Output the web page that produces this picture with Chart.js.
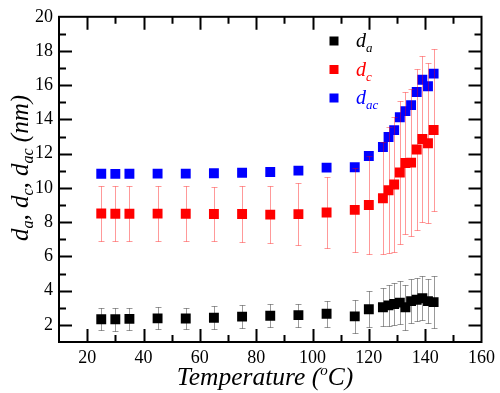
<!DOCTYPE html>
<html>
<head>
<meta charset="utf-8">
<script src="https://cdn.jsdelivr.net/npm/chart.js@4.4.0/dist/chart.umd.min.js"></script>
<style>
  html, body { margin: 0; padding: 0; background: #fff; }
  #wrap { width: 500px; height: 393px; }
</style>
</head>
<body>
<div id="wrap"><canvas id="chart"></canvas></div>
<script>
// --- DATA ---
const temps = [25, 30, 35, 45, 55, 65, 75, 85, 95, 105, 115, 120, 125, 127, 129, 131, 133, 135, 137, 139, 141, 143];
const dA    = [2.33, 2.33, 2.35, 2.38, 2.37, 2.42, 2.48, 2.53, 2.57, 2.65, 2.50, 2.91, 3.03, 3.14, 3.22, 3.30, 3.03, 3.39, 3.47, 3.56, 3.39, 3.33];
const dAErr = [0.64, 0.67, 0.64, 0.64, 0.62, 0.66, 0.66, 0.67, 0.67, 0.75, 0.95, 1.05, 1.10, 1.20, 1.22, 1.25, 1.30, 1.28, 1.25, 1.28, 1.30, 1.50];
const dC    = [8.51, 8.49, 8.49, 8.50, 8.49, 8.48, 8.48, 8.44, 8.47, 8.57, 8.72, 9.00, 9.40, 9.87, 10.20, 10.90, 11.46, 11.48, 12.25, 12.86, 12.61, 13.39];
const dCErr = [1.60, 1.60, 1.60, 1.60, 1.60, 1.60, 1.63, 1.65, 1.80, 2.07, 2.45, 2.88, 3.27, 3.68, 3.95, 4.20, 4.14, 4.30, 4.70, 4.86, 4.67, 4.72];
const dAC   = [10.83, 10.82, 10.83, 10.84, 10.84, 10.86, 10.89, 10.93, 11.01, 11.19, 11.21, 11.87, 12.39, 12.98, 13.38, 14.13, 14.49, 14.84, 15.61, 16.32, 15.94, 16.68];
const xTicks = [20, 40, 60, 80, 100, 120, 140, 160];
const yTicks = [2, 4, 6, 8, 10, 12, 14, 16, 18, 20];

const SERIF = 'Liberation Serif';

function pts(ys) { return temps.map((t, i) => ({ x: t, y: ys[i] })); }

// text made of pieces (italic, subscript/superscript)
function richWidth(ctx, parts) {
  let w = 0;
  parts.forEach(p => { ctx.font = `${p.style || 'italic'} ${p.size}px ${SERIF}`; w += ctx.measureText(p.t).width; });
  return w;
}
function drawRich(ctx, parts, x, y, color) {
  ctx.fillStyle = color;
  ctx.textBaseline = 'alphabetic';
  ctx.textAlign = 'left';
  parts.forEach(p => {
    ctx.font = `${p.style || 'italic'} ${p.size}px ${SERIF}`;
    ctx.fillText(p.t, x, y + (p.dy || 0));
    x += ctx.measureText(p.t).width;
  });
}

// error bars go under the points of the same series
const errorBars = {
  id: 'errorBars',
  beforeDatasetDraw(chart, args) {
    const ds = chart.data.datasets[args.index];
    if (!ds.errors) return;
    const ctx = chart.ctx, xs = chart.scales.x, ys = chart.scales.y;
    ctx.save();
    ctx.lineWidth = 1;
    ctx.strokeStyle = ds.errorColor;
    ds.data.forEach((p, i) => {
      const x = Math.round(xs.getPixelForValue(p.x)) + 0.5;
      const y1 = Math.round(ys.getPixelForValue(p.y + ds.errors[i])) + 0.5;
      const y2 = Math.round(ys.getPixelForValue(p.y - ds.errors[i])) + 0.5;
      ctx.beginPath();
      ctx.moveTo(x, y1); ctx.lineTo(x, y2);
      ctx.moveTo(x - 3, y1); ctx.lineTo(x + 3, y1);
      ctx.moveTo(x - 3, y2); ctx.lineTo(x + 3, y2);
      ctx.stroke();
    });
    ctx.restore();
  }
};

// frame, inward ticks, titles, legend
const decor = {
  id: 'decor',
  afterDraw(chart) {
    const ctx = chart.ctx, a = chart.chartArea, xs = chart.scales.x, ys = chart.scales.y;
    ctx.save();
    ctx.strokeStyle = '#000';
    ctx.lineWidth = 2;
    ctx.strokeRect(a.left, a.top, a.right - a.left, a.bottom - a.top);

    const big = 13, small = 7;
    ctx.beginPath();
    const xt = [];
    xTicks.forEach(v => { xt.push([v, big]); xt.push([v - 10, small]); });
    xt.forEach(([v, len]) => {
      if (v <= xs.min || v >= xs.max) return;
      const x = Math.round(xs.getPixelForValue(v)) + 0.5;
      ctx.moveTo(x, a.bottom); ctx.lineTo(x, a.bottom - len);
      ctx.moveTo(x, a.top); ctx.lineTo(x, a.top + len);
    });
    const yt = [];
    yTicks.forEach(v => { yt.push([v, big]); yt.push([v - 1, small]); });
    yt.forEach(([v, len]) => {
      if (v <= ys.min || v >= ys.max) return;
      const y = Math.round(ys.getPixelForValue(v)) + 0.5;
      ctx.moveTo(a.left, y); ctx.lineTo(a.left + len, y);
      ctx.moveTo(a.right, y); ctx.lineTo(a.right - len, y);
    });
    ctx.stroke();

    // x title
    const xParts = [
      { t: 'Temperature (', size: 25.5 },
      { t: 'o', size: 15, dy: -10 },
      { t: 'C)', size: 25.5 }
    ];
    const xw = richWidth(ctx, xParts);
    drawRich(ctx, xParts, 265 - xw / 2, 385, '#000');

    // y title
    const yParts = [
      { t: 'd', size: 25 }, { t: 'a', size: 16, dy: 5 }, { t: ', ', size: 25 },
      { t: 'd', size: 25 }, { t: 'c', size: 16, dy: 5 }, { t: ', ', size: 25 },
      { t: 'd', size: 25 }, { t: 'ac', size: 16, dy: 5 }, { t: ' (nm)', size: 25 }
    ];
    const yw = richWidth(ctx, yParts);
    ctx.save();
    ctx.translate(28, 168);
    ctx.rotate(-Math.PI / 2);
    drawRich(ctx, yParts, -yw / 2, 0, '#000');
    ctx.restore();

    // legend
    chart.data.datasets.forEach((ds, i) => {
      const cy = 41 + i * 28.5;
      ctx.fillStyle = ds.backgroundColor;
      ctx.fillRect(329.5, cy - 4.5, 9, 9);
      drawRich(ctx, [{ t: 'd', size: 20 }, { t: ds.sub, size: 13, dy: 5 }], 356, cy + 6, ds.backgroundColor);
    });
    ctx.restore();
  }
};

new Chart(document.getElementById('chart'), {
  type: 'scatter',
  data: {
    datasets: [
      { label: 'da', sub: 'a', data: pts(dA), errors: dAErr, errorColor: 'rgba(0,0,0,0.4)',
        backgroundColor: '#000000', borderColor: '#000000' },
      { label: 'dc', sub: 'c', data: pts(dC), errors: dCErr, errorColor: 'rgba(255,0,0,0.4)',
        backgroundColor: '#ff0000', borderColor: '#ff0000' },
      { label: 'dac', sub: 'ac', data: pts(dAC),
        backgroundColor: '#0000ff', borderColor: '#0000ff' }
    ]
  },
  options: {
    responsive: true,
    maintainAspectRatio: false,
    animation: false,
    layout: { padding: { top: 9, right: 15, left: 0, bottom: 0 } },
    elements: { point: { pointStyle: 'rect', radius: 7, borderWidth: 0, hoverRadius: 7 } },
    plugins: { legend: { display: false }, tooltip: { enabled: false } },
    scales: {
      x: {
        type: 'linear', min: 10, max: 160,
        afterBuildTicks: s => { s.ticks = xTicks.map(v => ({ value: v })); },
        afterFit: s => { s.height = 51; },
        grid: { display: false, drawTicks: false },
        border: { display: false },
        ticks: { color: '#000', padding: 5, font: { family: SERIF, size: 18 } }
      },
      y: {
        type: 'linear', min: 1, max: 20,
        afterBuildTicks: s => { s.ticks = yTicks.map(v => ({ value: v })); },
        afterFit: s => { s.width = 59; },
        grid: { display: false, drawTicks: false },
        border: { display: false },
        ticks: { color: '#000', padding: 6, font: { family: SERIF, size: 18 } }
      }
    }
  },
  plugins: [errorBars, decor]
});
</script>
</body>
</html>
